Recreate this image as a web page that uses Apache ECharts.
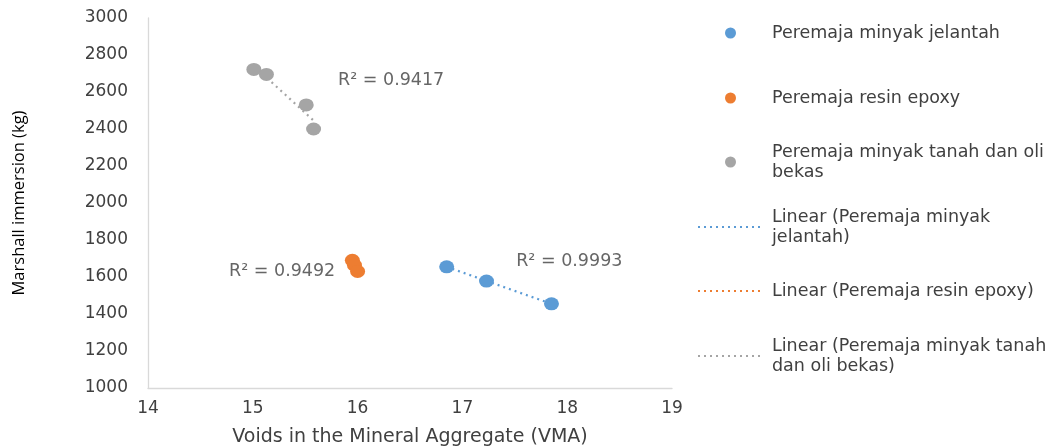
<!DOCTYPE html>
<html>
<head>
<meta charset="utf-8">
<script src="https://cdn.jsdelivr.net/npm/echarts@6/dist/echarts.min.js"></script>
<style>html,body{margin:0;padding:0;background:#fff}#c{width:1062px;height:448px}</style>
</head>
<body>
<div id="c"></div>
<script>
var seriesNames = ['Peremaja minyak jelantah', 'Peremaja resin epoxy', 'Peremaja minyak tanah dan oli bekas'];
var jelantahX = [16.85, 17.23, 17.85];
var jelantahY = [1655, 1578, 1455];
var epoxyX = [15.95, 15.97, 16.0];
var epoxyY = [1690, 1664, 1630];
var oliX = [15.01, 15.13, 15.51, 15.58];
var oliY = [2722, 2695, 2530, 2400];
var r2Labels = ['R² = 0.9993', 'R² = 0.9492', 'R² = 0.9417'];
var r2Pos = [[18.02, 1686], [15.28, 1632], [16.32, 2665]];
var xTicks = [14, 15, 16, 17, 18, 19];
var yTicks = [1000, 1200, 1400, 1600, 1800, 2000, 2200, 2400, 2600, 2800, 3000];
var colors = ['#5b9bd5', '#ed7d31', '#a5a5a5'];

function pairs(xs, ys) { return xs.map(function (x, i) { return [x, ys[i]]; }); }
function trend(xs, ys) {
  var n = xs.length, sx = 0, sy = 0, sxy = 0, sxx = 0;
  for (var i = 0; i < n; i++) { sx += xs[i]; sy += ys[i]; sxy += xs[i] * ys[i]; sxx += xs[i] * xs[i]; }
  var b = (n * sxy - sx * sy) / (n * sxx - sx * sx), a = (sy - b * sx) / n;
  var x0 = Math.min.apply(null, xs), x1 = Math.max.apply(null, xs);
  return [[x0, a + b * x0], [x1, a + b * x1]];
}
var groupsX = [jelantahX, epoxyX, oliX];
var groupsY = [jelantahY, epoxyY, oliY];
var font = '"DejaVu Sans", "Open Sans", sans-serif';
var ellipse = 'path://M0,50A50,50,0,1,0,100,50A50,50,0,1,0,0,50Z';

var series = [];
for (var g = 0; g < 3; g++) {
  series.push({
    name: 'Linear (' + seriesNames[g] + ')', type: 'line', data: trend(groupsX[g], groupsY[g]),
    symbol: 'none', z: 1, silent: true,
    lineStyle: { color: colors[g], width: 2.2, type: [2, 4] },
    itemStyle: { color: colors[g] }
  });
}
for (var g = 0; g < 3; g++) {
  series.push({
    name: seriesNames[g], type: 'scatter', data: pairs(groupsX[g], groupsY[g]),
    symbol: ellipse, symbolKeepAspect: false, symbolSize: [15, 13], z: 3,
    itemStyle: { color: colors[g], opacity: 1 }
  });
}
series.push({
  type: 'scatter', symbolSize: 0, silent: true, z: 4,
  data: r2Pos.map(function (p, i) { return { value: p, label: { formatter: r2Labels[i] } }; }),
  label: { show: true, position: 'inside', color: '#404040', fontSize: 17.5, fontFamily: font }
});

var legendItems = [
  { name: seriesNames[0], top: 18, two: false },
  { name: seriesNames[1], top: 83, two: false },
  { name: seriesNames[2], top: 127, two: true, fmt: 'Peremaja minyak tanah dan oli\nbekas' },
  { name: 'Linear (' + seriesNames[0] + ')', top: 192, line: true, two: true, fmt: 'Linear (Peremaja minyak\njelantah)' },
  { name: 'Linear (' + seriesNames[1] + ')', top: 276, line: true, two: false },
  { name: 'Linear (' + seriesNames[2] + ')', top: 321, line: true, two: true, fmt: 'Linear (Peremaja minyak tanah\ndan oli bekas)' }
];
var legends = legendItems.map(function (it) {
  var o = {
    data: [it.name], left: it.line ? 692 : 720, top: it.top, orient: 'vertical',
    selectedMode: false,
    itemWidth: it.line ? 64 : 15, itemHeight: it.line ? 14 : 11,
    itemGap: 0,
    textStyle: {
      fontFamily: font, fontSize: 17.5, color: '#404040', lineHeight: 20,
      padding: it.two ? [20, 0, 0, it.line ? 5 : 29] : [0, 0, 0, it.line ? 5 : 29]
    }
  };
  if (it.fmt) { o.formatter = (function (t) { return function () { return t; }; })(it.fmt); }
  if (!it.line) { o.icon = ellipse; } else { o.itemStyle = { opacity: 0, borderWidth: 0 }; }
  return o;
});

var chart = echarts.init(document.getElementById('c'));
chart.setOption({
  animation: false,
  color: colors,
  grid: { left: 148, right: 390, top: 18, bottom: 60, outerBoundsMode: 'none', containLabel: false },
  xAxis: {
    type: 'value', min: xTicks[0], max: xTicks[xTicks.length - 1], interval: 1,
    name: 'Voids in the Mineral Aggregate (VMA)', nameLocation: 'middle', nameGap: 40,
    nameTextStyle: { fontFamily: font, fontSize: 19, color: '#404040' },
    axisLine: { show: true, lineStyle: { color: '#d9d9d9', width: 1.3 } },
    axisTick: { show: false }, splitLine: { show: false },
    axisLabel: { fontFamily: font, fontSize: 17, color: '#404040', margin: 12 }
  },
  yAxis: {
    type: 'value', min: yTicks[0], max: yTicks[yTicks.length - 1], interval: 200,
    name: 'Marshall immersion (kg)', nameLocation: 'middle', nameGap: 120, nameRotate: 90,
    nameTextStyle: { fontFamily: '"Open Sans", sans-serif', fontSize: 16.5, color: '#000' },
    axisLine: { show: true, lineStyle: { color: '#d9d9d9', width: 1.3 } },
    axisTick: { show: false }, splitLine: { show: false },
    axisLabel: { fontFamily: font, fontSize: 17, color: '#404040', margin: 20, formatter: function (v) { return String(v); } }
  },
  legend: legends,
  series: series
});
</script>
</body>
</html>
